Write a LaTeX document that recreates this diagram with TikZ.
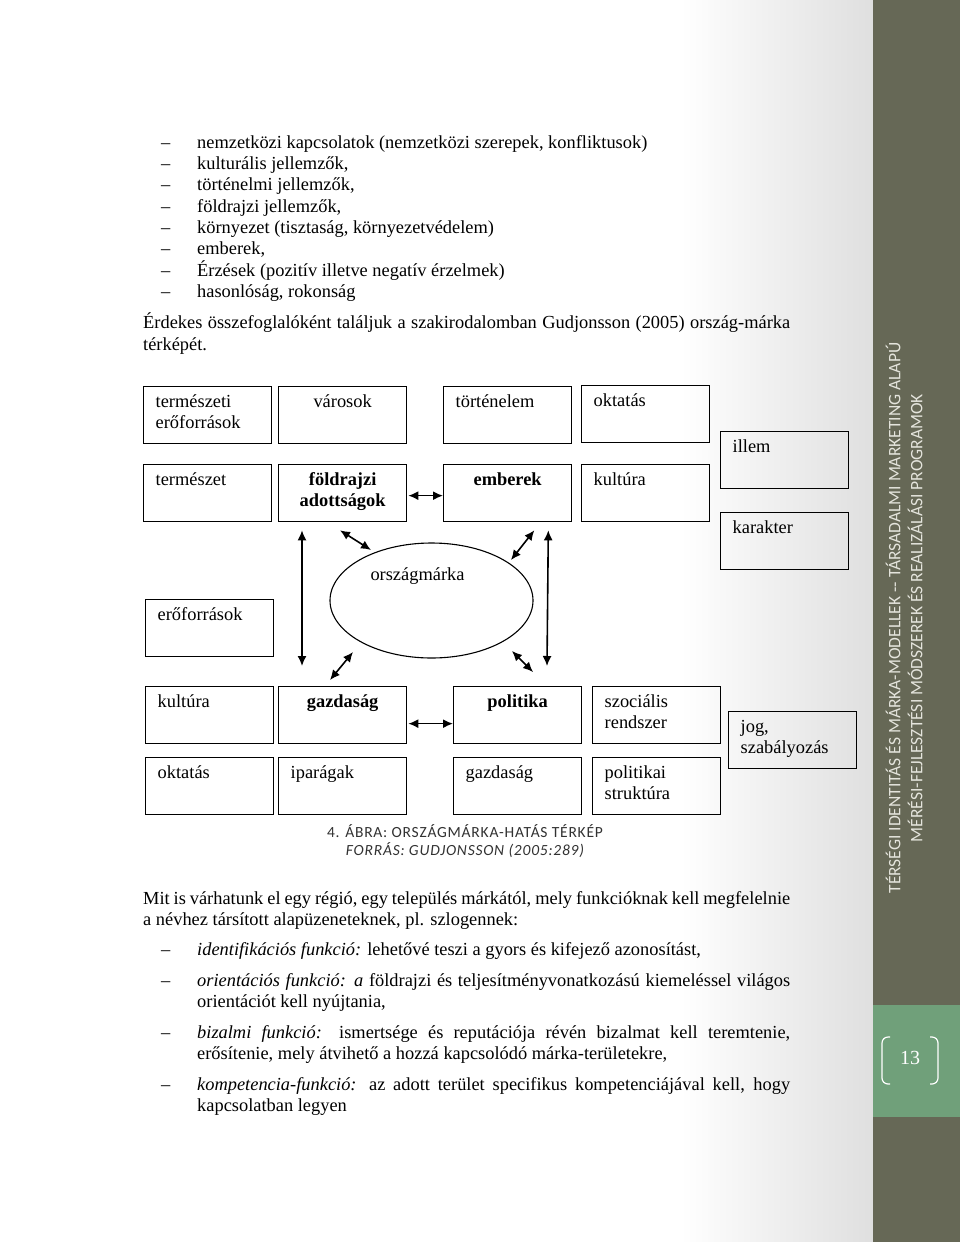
\documentclass[tikz,border=0pt]{standalone}
\usepackage{fontspec}
\setmainfont{Liberation Serif}
\newfontfamily\capfont[LetterSpace=5]{Carlito}
\newfontfamily\sidefont{Carlito}
\usetikzlibrary{shapes.geometric,arrows.meta}
\definecolor{sideolive}{RGB}{102,104,86}
\definecolor{sidegreen}{RGB}{112,160,122}
\definecolor{sidetext}{RGB}{228,228,220}
\definecolor{capgray}{RGB}{50,50,50}
\tikzset{
  mapbox/.style={draw, line width=1.3pt, minimum width=128pt, minimum height=57pt, anchor=north west, inner sep=0pt},
  boxtext/.style={anchor=north west, align=left, inner sep=0pt, font=\fontsize{18.4}{21.5}\selectfont},
  boxmid/.style={anchor=north, align=center, inner sep=0pt, font=\fontsize{18.4}{21.5}\selectfont},
  biarrow/.style={{Latex[length=10pt,width=9pt]}-{Latex[length=10pt,width=9pt]}, line width=1.6pt},
  bodytext/.style={anchor=base west, inner sep=0pt, font=\fontsize{18.4}{21.5}\selectfont},
  captext/.style={anchor=base, inner sep=0pt, text=capgray, font=\fontsize{15.5}{18}\selectfont\capfont}
}
\newcommand{\dashitem}{\makebox[36pt][l]{--}}

\begin{document}
\begin{tikzpicture}[x=1pt, y=-1pt]

    \useasboundingbox (0,0) rectangle (960,1242);

    % page and side bar
    \fill[white] (0,0) rectangle (873,1242);
    \shade[left color=white, right color=gray!25] (680,0) rectangle (873,1242);
    \fill[sideolive] (873,0) rectangle (960,1242);
    \fill[sidegreen] (873,1005) rectangle (960,1117);
    \node[rotate=90, align=center, inner sep=0pt, text=sidetext, font=\fontsize{17.5}{22}\selectfont\sidefont] (sidetitle) at (904,618)
        {TÉRSÉGI IDENTITÁS ÉS MÁRKA-MODELLEK -- TÁRSADALMI MARKETING ALAPÚ\\MÉRÉSI-FEJLESZTÉSI MÓDSZEREK ÉS REALIZÁLÁSI PROGRAMOK};
    \node[text=white, inner sep=0pt, font=\fontsize{20}{22}\selectfont] (pagenum) at (910,1058) {13};
    \draw[white, line width=1.2pt, rounded corners=6pt] (890,1037) -- (882,1037) -- (882,1084) -- (890,1084);
    \draw[white, line width=1.2pt, rounded corners=6pt] (930,1037) -- (938,1037) -- (938,1084) -- (930,1084);

    % text above the map
    \node[bodytext] (li1) at (161,148) {\dashitem nemzetközi kapcsolatok (nemzetközi szerepek, konfliktusok)};
    \node[bodytext] (li2) at (161,169) {\dashitem kulturális jellemzők,};
    \node[bodytext] (li3) at (161,190) {\dashitem történelmi jellemzők,};
    \node[bodytext] (li4) at (161,212) {\dashitem földrajzi jellemzők,};
    \node[bodytext] (li5) at (161,233) {\dashitem környezet (tisztaság, környezetvédelem)};
    \node[bodytext] (li6) at (161,254) {\dashitem emberek,};
    \node[bodytext] (li7) at (161,276) {\dashitem Érzések (pozitív illetve negatív érzelmek)};
    \node[bodytext] (li8) at (161,297) {\dashitem hasonlóság, rokonság};
    \node[bodytext] (intro1) at (143,328) {\makebox[647pt][s]{Érdekes összefoglalóként találjuk a szakirodalomban Gudjonsson (2005) ország-márka}};
    \node[bodytext] (intro2) at (143,350) {térképét.};

    % boxes of the map
    \node[mapbox] (termeszeti) at (143,386) {};
    \node[mapbox] (varosok) at (278,386) {};
    \node[mapbox] (tortenelem) at (443,386) {};
    \node[mapbox] (oktatas) at (581,385) {};
    \node[mapbox] (termeszet) at (143,464) {};
    \node[mapbox] (foldrajzi) at (278,464) {};
    \node[mapbox] (emberek) at (443,464) {};
    \node[mapbox] (kultura) at (581,464) {};
    \node[mapbox] (illem) at (720,431) {};
    \node[mapbox] (karakter) at (720,512) {};
    \node[mapbox] (eroforrasok) at (145,599) {};
    \node[mapbox] (kulturalow) at (145,686) {};
    \node[mapbox] (gazdasag) at (278,686) {};
    \node[mapbox] (politika) at (453,686) {};
    \node[mapbox] (szocialis) at (592,686) {};
    \node[mapbox] (jog) at (728,711) {};
    \node[mapbox] (oktataslow) at (145,757) {};
    \node[mapbox] (iparagak) at (278,757) {};
    \node[mapbox] (gazdasaglow) at (453,757) {};
    \node[mapbox] (politikai) at (592,757) {};

    \node[boxtext] (termeszetiT) at ([shift={(12.5,6)}]termeszeti.north west) {\strut természeti\\erőforrások};
    \node[boxmid] (varosokT) at ([shift={(0,6)}]varosok.north) {\strut városok};
    \node[boxtext] (tortenelemT) at ([shift={(12.5,6)}]tortenelem.north west) {\strut történelem};
    \node[boxtext] (oktatasT) at ([shift={(12.5,6)}]oktatas.north west) {\strut oktatás};
    \node[boxtext] (termeszetT) at ([shift={(12.5,6)}]termeszet.north west) {\strut természet};
    \node[boxmid, font=\fontsize{18.4}{21.5}\selectfont\bfseries] (foldrajziT) at ([shift={(0,6)}]foldrajzi.north) {\strut földrajzi\\adottságok};
    \node[boxmid, font=\fontsize{18.4}{21.5}\selectfont\bfseries] (emberekT) at ([shift={(0,6)}]emberek.north) {\strut emberek};
    \node[boxtext] (kulturaT) at ([shift={(12.5,6)}]kultura.north west) {\strut kultúra};
    \node[boxtext] (illemT) at ([shift={(12.5,6)}]illem.north west) {\strut illem};
    \node[boxtext] (karakterT) at ([shift={(12.5,6)}]karakter.north west) {\strut karakter};
    \node[boxtext] (eroforrasokT) at ([shift={(12.5,6)}]eroforrasok.north west) {\strut erőforrások};
    \node[boxtext] (kulturalowT) at ([shift={(12.5,6)}]kulturalow.north west) {\strut kultúra};
    \node[boxmid, font=\fontsize{18.4}{21.5}\selectfont\bfseries] (gazdasagT) at ([shift={(0,6)}]gazdasag.north) {\strut gazdaság};
    \node[boxmid, font=\fontsize{18.4}{21.5}\selectfont\bfseries] (politikaT) at ([shift={(0,6)}]politika.north) {\strut politika};
    \node[boxtext] (szocialisT) at ([shift={(12.5,6)}]szocialis.north west) {\strut szociális\\rendszer};
    \node[boxtext] (jogT) at ([shift={(12.5,6)}]jog.north west) {\strut jog,\\szabályozás};
    \node[boxtext] (oktataslowT) at ([shift={(12.5,6)}]oktataslow.north west) {\strut oktatás};
    \node[boxtext] (iparagakT) at ([shift={(12.5,6)}]iparagak.north west) {\strut iparágak};
    \node[boxtext] (gazdasaglowT) at ([shift={(12.5,6)}]gazdasaglow.north west) {\strut gazdaság};
    \node[boxtext] (politikaiT) at ([shift={(12.5,6)}]politikai.north west) {\strut politikai\\struktúra};

    % the brand in the middle
    \node[ellipse, draw, line width=1.1pt, minimum width=203pt, minimum height=115pt, inner sep=0pt] (orszag) at (431.5,600.5) {};
    \node[inner sep=0pt, font=\fontsize{18.4}{21.5}\selectfont] (orszagT) at ([shift={(-14,-24)}]orszag.center) {országmárka};

    % arrows
    \draw[biarrow] ([shift={(1,2.5)}]foldrajzi.east) -- ([shift={(0,2.5)}]emberek.west);
    \draw[biarrow] ([shift={(1,8.5)}]gazdasag.east) -- ([shift={(0,8.5)}]politika.west);
    \draw[biarrow] ([shift={(24,8)}]foldrajzi.south west) -- ([shift={(24,-20)}]gazdasag.north west);
    \draw[biarrow] ([shift={(-24,8)}]emberek.south east) -- ([shift={(94,-20)}]politika.north west);
    \draw[biarrow] ([shift={(62,8)}]foldrajzi.south west) -- ([shift={(-60.5,-50.5)}]orszag.center);
    \draw[biarrow] ([shift={(-38,8)}]emberek.south east) -- ([shift={(79.5,-40.5)}]orszag.center);
    \draw[biarrow] ([shift={(-78.5,51.5)}]orszag.center) -- ([shift={(52,-6)}]gazdasag.north west);
    \draw[biarrow] ([shift={(80.5,50.5)}]orszag.center) -- ([shift={(80,-14)}]politika.north west);

    % caption
    \node[captext] (cap1) at (465,837) {4. ÁBRA: ORSZÁGMÁRKA-HATÁS TÉRKÉP};
    \node[captext, font=\fontsize{15.5}{18}\selectfont\capfont\itshape] (cap2) at (465,855) {FORRÁS: GUDJONSSON (2005:289)};

    % text below the map
    \node[bodytext] (para1) at (143,904) {\makebox[647pt][s]{Mit is várhatunk el egy régió, egy település márkától, mely funkcióknak kell megfelelnie}};
    \node[bodytext] (para2) at (143,925) {a névhez társított alapüzeneteknek, pl. szlogennek:};
    \node[bodytext] (fn1) at (161,955) {\dashitem\textit{identifikációs funkció:} lehetővé teszi a gyors és kifejező azonosítást,};
    \node[bodytext] (fn2) at (161,986) {\dashitem\makebox[593pt][s]{\textit{orientációs funkció: a} földrajzi és teljesítményvonatkozású kiemeléssel világos}};
    \node[bodytext] (fn2b) at (197,1007) {orientációt kell nyújtania,};
    \node[bodytext] (fn3) at (161,1038) {\dashitem\makebox[593pt][s]{\textit{bizalmi funkció:} ismertsége és reputációja révén bizalmat kell teremtenie,}};
    \node[bodytext] (fn3b) at (197,1059) {erősítenie, mely átvihető a hozzá kapcsolódó márka-területekre,};
    \node[bodytext] (fn4) at (161,1090) {\dashitem\makebox[593pt][s]{\textit{kompetencia-funkció:} az adott terület specifikus kompetenciájával kell, hogy}};
    \node[bodytext] (fn4b) at (197,1111) {kapcsolatban legyen};

\end{tikzpicture}
\end{document}
